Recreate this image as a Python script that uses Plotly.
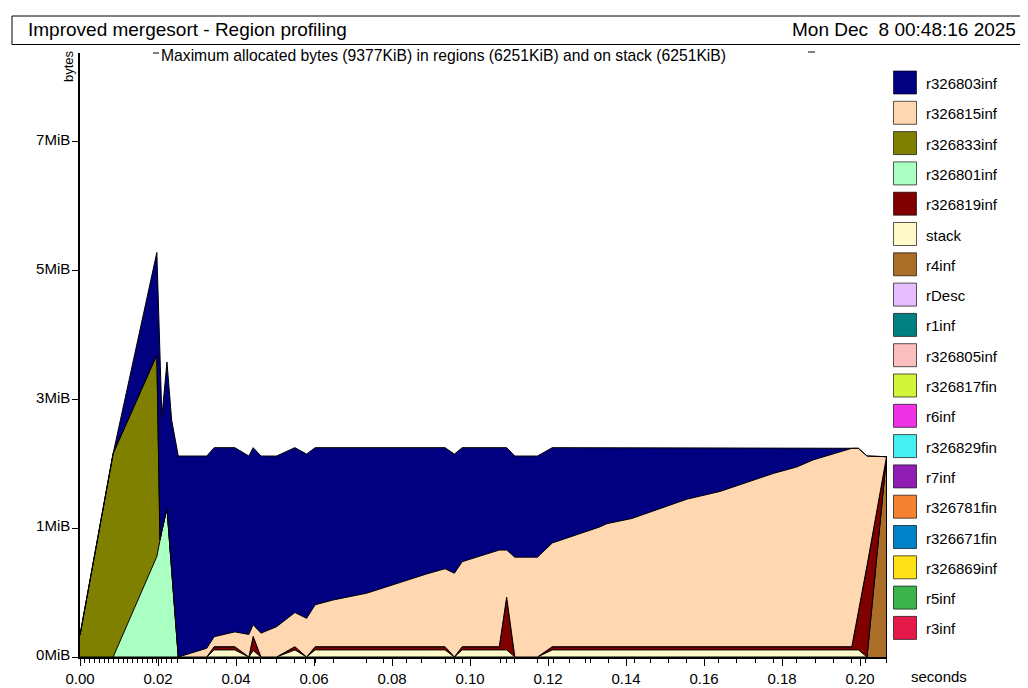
import plotly.graph_objects as go

# sample times (seconds)
times = [0.0000, 0.0075, 0.0085, 0.0197, 0.0205, 0.0210, 0.0223, 0.0235, 0.0252,
         0.0325, 0.0344, 0.0397, 0.0433, 0.0444, 0.0464, 0.0504, 0.0551, 0.0581,
         0.0603, 0.0649, 0.0735, 0.0889, 0.0936, 0.0960, 0.0980, 0.1075, 0.1094,
         0.1115, 0.1173, 0.1211, 0.1333, 0.1351, 0.1415, 0.1556, 0.1641, 0.1778,
         0.1838, 0.1880, 0.1979, 0.1996, 0.2018, 0.2068]

# bytes per region at each sample (KiB)
r4inf = [0, 0, 0, 0, 0, 0, 0, 0, 0, 0, 0, 0, 0, 0, 0, 0, 0, 0, 0, 0, 0,
         0, 0, 0, 0, 0, 0, 0, 0, 0, 0, 0, 0, 0, 0, 0, 0, 0, 0, 0, 0, 3110]
stack = [0, 0, 0, 0, 0, 0, 0, 0, 0, 0, 110, 110, 0, 100, 0, 0, 110, 0, 110, 110, 110,
         110, 110, 0, 110, 110, 110, 0, 0, 110, 110, 110, 110, 110, 110, 110, 110, 110, 110, 110, 0, 0]
r326819inf = [0, 0, 0, 0, 0, 0, 0, 0, 0, 0, 50, 50, 0, 220, 0, 0, 50, 0, 50, 50, 50,
              50, 50, 0, 50, 50, 820, 0, 0, 50, 50, 50, 50, 50, 50, 50, 50, 50, 50, 600, 1420, 0]
r326801inf = [0, 0, 0, 1560, 1820, 1960, 2310, 1350, 0, 0, 0, 0, 0, 0, 0, 0, 0, 0, 0, 0, 0,
              0, 0, 0, 0, 0, 0, 0, 0, 0, 0, 0, 0, 0, 0, 0, 0, 0, 0, 0, 0, 0]
r326833inf = [340, 2800, 3160, 3130, 0, 0, 0, 0, 0, 0, 0, 0, 0, 0, 0, 0, 0, 0, 0, 0, 0,
              0, 0, 0, 0, 0, 0, 0, 0, 0, 0, 0, 0, 0, 0, 0, 0, 0, 0, 0, 0, 0]
r326815inf = [0, 0, 0, 0, 0, 0, 0, 0, 0, 135, 155, 230, 350, 180, 370, 470, 530, 600, 650, 725, 830,
              1130, 1210, 1300, 1320, 1500, 730, 1550, 1550, 1610, 1860, 1910, 1990, 2290, 2410, 2690, 2790,
              2900, 3080, 2530, 1700, 0]
r326803inf = [0, 0, 0, 1590, 3040, 1770, 2270, 2330, 3120, 2985, 2935, 2860, 2770, 2750, 2750, 2650,
              2560, 2550, 2440, 2365, 2260, 1960, 1880, 1850, 1770, 1590, 1590, 1570, 1570, 1480, 1230,
              1180, 1100, 800, 680, 400, 300, 190, 10, 0, 0, 0]

# profiling sample marks along the time axis
sample_marks = [0.0012, 0.0025, 0.0037, 0.0049, 0.0062, 0.0074, 0.0086, 0.0098, 0.0111, 0.0123,
                0.0135, 0.0148, 0.0160, 0.0172, 0.0185, 0.0197, 0.0209, 0.0222, 0.0235, 0.0250,
                0.0290, 0.0325, 0.0344, 0.0376, 0.0432, 0.0444, 0.0464, 0.0504, 0.0551, 0.0577,
                0.0603, 0.0650, 0.0735, 0.0778, 0.0838, 0.0876, 0.0936, 0.0960, 0.0980, 0.1077,
                0.1094, 0.1115, 0.1173, 0.1213, 0.1256, 0.1295, 0.1308, 0.1355, 0.1423, 0.1462,
                0.1508, 0.1556, 0.1637, 0.1684, 0.1731, 0.1778, 0.1838, 0.1885, 0.1932, 0.1979,
                0.2000, 0.2015, 0.2067]

legend_names = ["r326803inf", "r326815inf", "r326833inf", "r326801inf", "r326819inf", "stack",
                "r4inf", "rDesc", "r1inf", "r326805inf", "r326817fin", "r6inf", "r326829fin",
                "r7inf", "r326781fin", "r326671fin", "r326869inf", "r5inf", "r3inf"]
legend_colors = ["#000080", "#FFD8B1", "#808000", "#AAFFC3", "#800000", "#FFFAC8",
                 "#AA6E28", "#E6BEFF", "#008080", "#FABEBE", "#D2F53C", "#F032E6", "#46F0F0",
                 "#911EB4", "#F58231", "#0082C8", "#FFE119", "#3CB44B", "#E6194B"]

x_ticks = [0.00, 0.02, 0.04, 0.06, 0.08, 0.10, 0.12, 0.14, 0.16, 0.18, 0.20]
y_ticks = [0, 2000, 4000, 6000, 8000]
y_labels = ["0MiB", "1MiB", "3MiB", "5MiB", "7MiB"]

series = {
    "r4inf": r4inf, "stack": stack, "r326819inf": r326819inf, "r326801inf": r326801inf,
    "r326833inf": r326833inf, "r326815inf": r326815inf, "r326803inf": r326803inf,
}
color_of = dict(zip(legend_names, legend_colors))

# the page body adds 8px round the figure
OFF = 8
W, H = 1028 - OFF, 688 - OFF
L, T = 80 - OFF, 53 - OFF
R, B = 141, 31
PW, PH = W - L - R, H - T - B


def px(x):
    return (x - OFF - L) / PW


def py(y):
    return (H - B - (y - OFF)) / PH


FONT = "Liberation Sans, Arial, sans-serif"

fig = go.Figure()
for name, vals in series.items():
    fig.add_trace(go.Scatter(
        x=times, y=vals, name=name, stackgroup="one", mode="lines",
        line=dict(color="black", width=1), fillcolor=color_of[name],
        showlegend=False, hoverinfo="skip",
    ))

last_total = sum(v[-1] for v in series.values())
shapes = [
    dict(type="line", xref="x", yref="y", x0=times[-1], x1=times[-1], y0=0, y1=last_total,
         line=dict(color="black", width=1)),
    dict(type="rect", xref="paper", yref="paper", x0=px(12), x1=px(1021), y0=py(16), y1=py(44.5),
         line=dict(color="black", width=1)),
    dict(type="line", xref="paper", yref="paper", x0=px(153), x1=px(159), y0=py(53), y1=py(53),
         line=dict(color="black", width=1)),
    dict(type="line", xref="paper", yref="paper", x0=px(808), x1=px(815), y0=py(52), y1=py(52),
         line=dict(color="black", width=1)),
]
annotations = [
    dict(text="Improved mergesort - Region profiling", x=px(26), y=py(30), xref="paper", yref="paper",
         xanchor="left", yanchor="middle", showarrow=False, font=dict(size=19, color="black", family=FONT)),
    dict(text="Mon Dec&nbsp; 8 00:48:16 2025", x=px(1018), y=py(30), xref="paper",
         yref="paper", xanchor="right", yanchor="middle", showarrow=False,
         font=dict(size=19, color="black", family=FONT)),
    dict(text="Maximum allocated bytes (9377KiB) in regions (6251KiB) and on stack (6251KiB)",
         x=px(159), y=py(55), xref="paper", yref="paper", xanchor="left", yanchor="middle",
         showarrow=False, font=dict(size=15.7, color="black", family=FONT)),
    dict(text="bytes", x=px(68), y=py(66), xref="paper", yref="paper", xanchor="center",
         yanchor="middle", textangle=-90, showarrow=False, font=dict(size=13, color="black", family=FONT)),
    dict(text="seconds", x=px(909), y=py(676), xref="paper", yref="paper", xanchor="left",
         yanchor="middle", showarrow=False, font=dict(size=15, color="black", family=FONT)),
]

# legend drawn by hand: square boxes with names
for i, (name, col) in enumerate(zip(legend_names, legend_colors)):
    cy = 82.5 + i * 30.3
    shapes.append(dict(type="rect", xref="paper", yref="paper", x0=px(893.5), x1=px(916.5),
                       y0=py(cy - 11.5), y1=py(cy + 11.5), fillcolor=col,
                       line=dict(color="rgba(0,0,0,0.65)", width=1)))
    annotations.append(dict(text=name, x=px(924), y=py(cy + 1), xref="paper", yref="paper",
                            xanchor="left", yanchor="middle", showarrow=False,
                            font=dict(size=15, color="black", family=FONT)))

fig.update_layout(
    width=W, height=H, margin=dict(l=L, r=R, t=T, b=B, autoexpand=False),
    paper_bgcolor="white", plot_bgcolor="white",
    font=dict(family=FONT, color="black", size=15),
    shapes=shapes, annotations=annotations, showlegend=False,
)
fig.update_xaxes(
    range=[0, PW / 3900], tickvals=x_ticks, ticktext=[f"{v:.2f}" for v in x_ticks],
    showgrid=False, zeroline=False, showline=True, linecolor="black", linewidth=1.5,
    ticks="outside", ticklen=7, tickcolor="black", tickwidth=1, automargin=False,
    minor=dict(tickmode="array", tickvals=sample_marks, ticks="outside", ticklen=4,
               tickcolor="black", tickwidth=1),
    tickfont=dict(size=15),
)
fig.update_yaxes(
    range=[0, 9377], tickvals=y_ticks, ticktext=y_labels,
    showgrid=False, zeroline=False, showline=True, linecolor="black", linewidth=1.5,
    ticks="outside", ticklen=6, tickcolor="black", tickwidth=1, automargin=False,
    ticklabelstandoff=-1, ticklabelshift=-2, tickfont=dict(size=15),
)

fig.write_html("out.html")
